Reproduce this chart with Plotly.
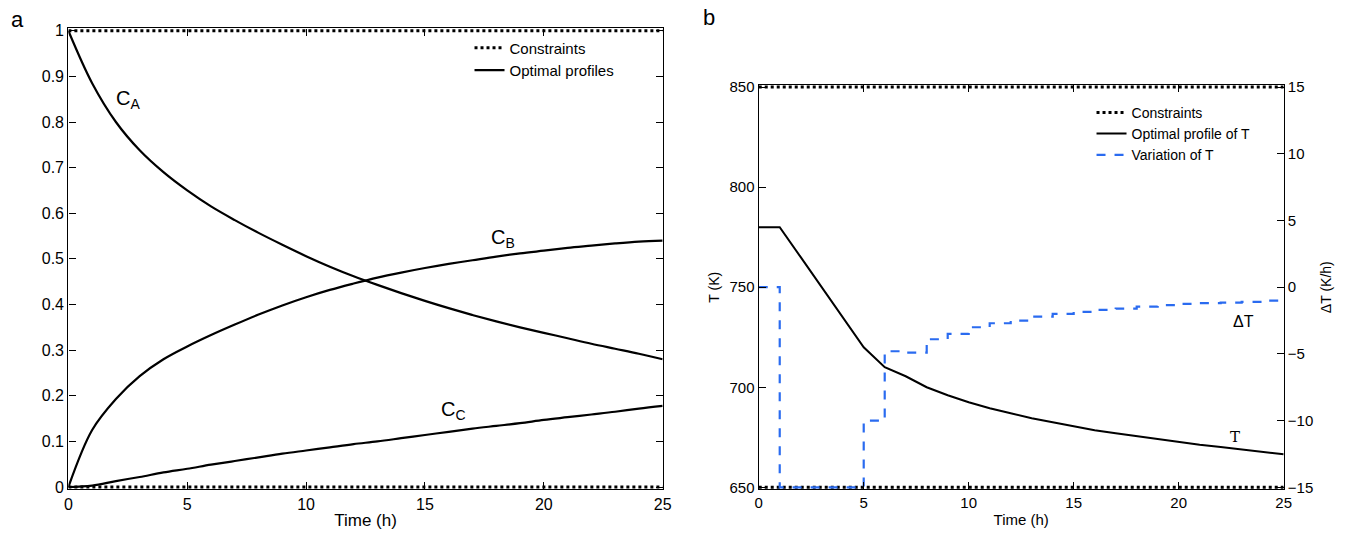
import plotly.graph_objects as go

# ---------------- data ----------------
t = list(range(0, 26))
CA = [1.0, 0.885, 0.80, 0.738, 0.69, 0.65, 0.615, 0.585, 0.557, 0.531, 0.506, 0.483, 0.462,
      0.443, 0.425, 0.408, 0.392, 0.377, 0.363, 0.350, 0.338, 0.326, 0.314, 0.303, 0.292, 0.28]
CB = [0.0, 0.125, 0.193, 0.243, 0.28, 0.308, 0.333, 0.356, 0.378, 0.398, 0.416, 0.432, 0.446,
      0.459, 0.47, 0.48, 0.489, 0.497, 0.505, 0.512, 0.518, 0.524, 0.529, 0.534, 0.538, 0.54]
CC = [0.0, 0.003, 0.013, 0.022, 0.032, 0.04, 0.049, 0.057, 0.065, 0.073, 0.08, 0.087, 0.094,
      0.1, 0.107, 0.114, 0.121, 0.128, 0.134, 0.14, 0.147, 0.153, 0.159, 0.165, 0.172, 0.178]
conc_limits = [0, 1]

T = [780, 780, 765, 750, 735, 720, 710, 705.5, 700, 696, 692.5, 689.5, 687, 684.5, 682.5,
     680.5, 678.5, 677, 675.5, 674, 672.5, 671.3, 670.2, 669, 668, 666.5]
# DeltaT per interval [k, k+1]; last value repeated for the final edge
dT = [0, -15, -15, -15, -15, -10, -4.8, -4.9, -3.9, -3.5, -3.0, -2.7, -2.5, -2.2, -2.0,
      -1.85, -1.7, -1.6, -1.45, -1.35, -1.25, -1.2, -1.15, -1.1, -1.0, -1.0]
T_limits = [650, 850]

FONT = "Liberation Sans, Arial, sans-serif"
fig = go.Figure()

# ---------------- panel a ----------------
for i, c in enumerate(conc_limits):
    fig.add_trace(go.Scatter(x=[0, 25], y=[c, c], mode="lines", name="Constraints",
                             line=dict(color="black", width=3, dash="dot"),
                             showlegend=(i == 0), legend="legend", xaxis="x", yaxis="y"))
for j, yy in enumerate([CA, CB, CC]):
    fig.add_trace(go.Scatter(x=t, y=yy, mode="lines", name="Optimal profiles",
                             line=dict(color="black", width=2.2, shape="spline"),
                             showlegend=(j == 0), legend="legend", xaxis="x", yaxis="y"))

# ---------------- panel b ----------------
for i, c in enumerate(T_limits):
    fig.add_trace(go.Scatter(x=[0, 25], y=[c, c], mode="lines", name="Constraints",
                             line=dict(color="black", width=3, dash="dot"),
                             showlegend=(i == 0), legend="legend2", xaxis="x2", yaxis="y2"))
fig.add_trace(go.Scatter(x=t, y=T, mode="lines", name="Optimal profile of T",
                         line=dict(color="black", width=2),
                         legend="legend2", xaxis="x2", yaxis="y2"))
fig.add_trace(go.Scatter(x=t, y=dT, mode="lines", name="Variation of T",
                         line=dict(color="#2a6bf0", width=2.2, dash="dash", shape="hv"),
                         legend="legend2", xaxis="x2", yaxis="y3"))


def ax(size):
    return dict(showline=True, linecolor="black", linewidth=1.3, ticks="inside",
                ticklen=7, tickcolor="black", showgrid=False, zeroline=False,
                tickfont=dict(family=FONT, size=size, color="black"))


fig.update_layout(
    width=1362, height=549,
    margin=dict(l=0, r=0, t=0, b=0),
    paper_bgcolor="white", plot_bgcolor="white",
    font=dict(family=FONT, color="black"),
    xaxis=dict(domain=[65/1362, 665/1362], range=[0, 25], dtick=5, mirror="ticks",
               title=dict(text="Time (h)", font=dict(size=17), standoff=2),
               anchor="y", **ax(16)),
    yaxis=dict(domain=[1-494/549, 1-22/549], range=[-0.005, 1.005],
               tickvals=[i/10 for i in range(11)],
               ticktext=["0", "0.1", "0.2", "0.3", "0.4", "0.5", "0.6", "0.7", "0.8", "0.9", "1"],
               mirror="ticks", anchor="x", **ax(16)),
    xaxis2=dict(domain=[762/1362, 1292/1362], range=[0, 25], dtick=5, mirror="ticks",
                title=dict(text="Time (h)", font=dict(size=15), standoff=4),
                anchor="y2", **ax(15)),
    yaxis2=dict(domain=[1-494/549, 1-80/549], range=[649, 851], dtick=50,
                title=dict(text="T (K)", font=dict(size=14), standoff=6),
                anchor="x2", **ax(15)),
    yaxis3=dict(range=[-15.15, 15.15], dtick=5, overlaying="y2", side="right",
                anchor="x2", title=dict(text="ΔT (K/h)", font=dict(size=14), standoff=8),
                **ax(15)),
    legend=dict(x=470/1362, y=1-25/549, xanchor="left", yanchor="top",
                bgcolor="rgba(0,0,0,0)", itemwidth=30, tracegroupgap=0,
                font=dict(family=FONT, size=15, color="black")),
    legend2=dict(x=1098/1362, y=1-92/549, xanchor="left", yanchor="top",
                 bgcolor="rgba(0,0,0,0)", itemwidth=30, tracegroupgap=0,
                 font=dict(family=FONT, size=14, color="black")),
    showlegend=True,
)

ann = [
    dict(x=2.5, y=0.85, xref="x", yref="y", text="C<sub>A</sub>", font=dict(size=20)),
    dict(x=18.3, y=0.545, xref="x", yref="y", text="C<sub>B</sub>", font=dict(size=20)),
    dict(x=16.2, y=0.168, xref="x", yref="y", text="C<sub>C</sub>", font=dict(size=20)),
    dict(x=23.1, y=-2.6, xref="x2", yref="y3", text="ΔT", font=dict(size=16)),
    dict(x=22.7, y=675, xref="x2", yref="y2", text="T",
         font=dict(size=15, family="DejaVu Serif, serif")),
    dict(x=14/1362, y=1-13/549, xref="paper", yref="paper", text="a", font=dict(size=22),
         xanchor="center", yanchor="middle"),
    dict(x=712/1362, y=1-11/549, xref="paper", yref="paper", text="b", font=dict(size=22),
         xanchor="center", yanchor="middle"),
]
for a in ann:
    a.setdefault("showarrow", False)
    a["font"] = dict(family=a["font"].get("family", FONT), size=a["font"]["size"], color="black")
    fig.add_annotation(**a)

fig.write_html("out.html")
